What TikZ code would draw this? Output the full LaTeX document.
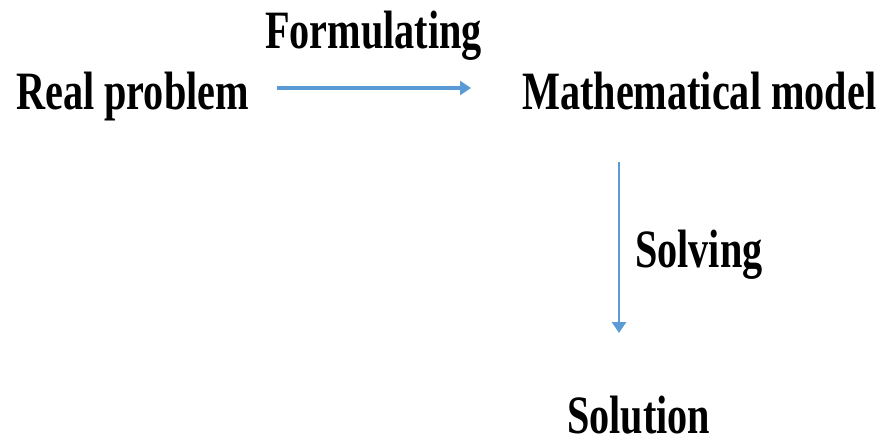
\documentclass[tikz,border=0pt]{standalone}
\usepackage{fontspec}
\setmainfont{Liberation Serif}[FakeStretch=0.745]
\usetikzlibrary{arrows.meta}
\definecolor{arrblue}{HTML}{5B9BD5}
\tikzset{
  lbl/.style={inner sep=0pt, anchor=base west, font=\fontsize{54}{60}\selectfont\bfseries},
  arr/.style={draw=arrblue, line width=3.2pt, -{Triangle[length=11pt,width=14pt]}, arrblue}
}
\begin{document}
\begin{tikzpicture}[x=1pt,y=-1pt]
\useasboundingbox (0,0) rectangle (882,437);
\node[lbl] (real) at (16,109) {Real problem};
\node[lbl] (form) at (265,48) {Formulating};
\node[lbl] (math) at (522,109) {Mathematical model};
\node[lbl] (solv) at (635,267) {Solving};
\node[lbl] (sol) at (567,433) {Solution};
\draw[arr] ([xshift=28pt,yshift=21pt]real.base east) -- ([xshift=-51pt,yshift=21pt]math.base west);
\draw[arr, line width=2.6pt] ([xshift=97pt,yshift=-53pt]math.base west) -- ([xshift=52pt,yshift=100pt]sol.base west);
\end{tikzpicture}
\end{document}
